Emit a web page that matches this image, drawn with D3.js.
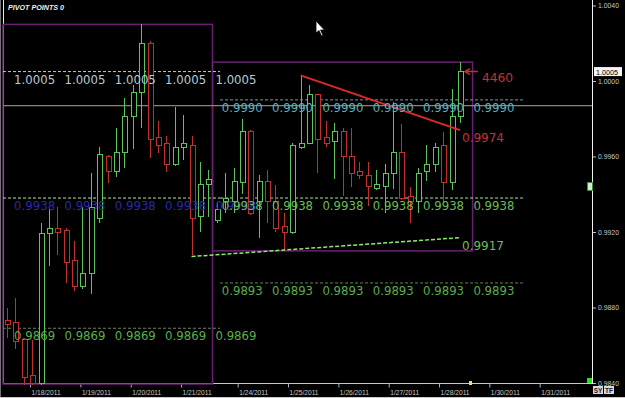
<!DOCTYPE html>
<html><head><meta charset="utf-8">
<script src="https://cdn.jsdelivr.net/npm/d3@7"></script>
<style>html,body{margin:0;padding:0;background:#000;overflow:hidden}</style>
</head><body>
<svg id="c" width="625" height="398"></svg>
<script>
// ---- DATA ----
const opens  = [0.9873,0.9872,0.9863,0.9844,0.9840,0.9919,0.9922,0.9921,0.9905,0.9891,0.9898,0.9927,0.9960,0.9952,0.9962,0.9981,0.9994,1.0020,0.9970,0.9967,0.9956,0.9965,0.9966,0.9928,0.9945,0.9926,0.9936,0.9936,0.9946,0.9973,0.9936,0.9947,0.9936,0.9923,0.9920,0.9965,0.9967,0.9993,0.9970,0.9968,0.9973,0.9960,0.9952,0.9950,0.9943,0.9944,0.9951,0.9962,0.9939,0.9936,0.9952,0.9956,0.9966,0.9946,0.9981];
const highs  = [0.9880,0.9885,0.9864,0.9863,0.9925,0.9932,0.9933,0.9922,0.9915,0.9933,0.9951,0.9965,0.9961,0.9975,0.9991,0.9998,1.0030,1.0021,0.9979,0.9971,0.9986,0.9982,0.9971,0.9957,0.9953,0.9936,0.9951,0.9954,0.9980,0.9974,0.9950,0.9953,0.9945,0.9930,0.9967,1.0003,0.9998,0.9993,0.9979,0.9978,0.9975,0.9975,0.9957,0.9957,0.9953,0.9956,0.9989,0.9977,0.9944,0.9954,0.9966,0.9967,0.9973,0.9996,1.0010];
const lows   = [0.9864,0.9858,0.9839,0.9839,0.9839,0.9902,0.9908,0.9893,0.9889,0.9890,0.9887,0.9925,0.9946,0.9949,0.9954,0.9964,0.9975,0.9959,0.9962,0.9952,0.9955,0.9958,0.9908,0.9920,0.9928,0.9925,0.9930,0.9930,0.9940,0.9929,0.9917,0.9925,0.9920,0.9910,0.9919,0.9964,0.9967,0.9951,0.9965,0.9948,0.9939,0.9944,0.9948,0.9934,0.9942,0.9930,0.9943,0.9937,0.9925,0.9930,0.9947,0.9952,0.9936,0.9942,0.9978];
const closes = [0.9871,0.9862,0.9843,0.9840,0.9919,0.9922,0.9920,0.9904,0.9891,0.9898,0.9933,0.9961,0.9952,0.9962,0.9981,0.9994,1.0020,0.9969,0.9966,0.9956,0.9965,0.9967,0.9927,0.9945,0.9948,0.9932,0.9938,0.9947,0.9973,0.9930,0.9947,0.9936,0.9922,0.9920,0.9966,0.9967,0.9993,0.9969,0.9967,0.9973,0.9960,0.9951,0.9950,0.9944,0.9945,0.9951,0.9962,0.9938,0.9936,0.9951,0.9956,0.9965,0.9946,0.9981,1.0005];

const dateLabels = ['1/18/2011','1/19/2011','1/20/2011','1/21/2011','1/24/2011','1/25/2011','1/26/2011','1/27/2011','1/28/2011','1/30/2011','1/31/2011'];
const dateSlots  = [2.75, 8.75, 14.75, 20.75, 27.5, 33.5, 39.5, 45.5, 51.5, 57.5, 63.5];
const priceTicks = [1.0040, 1.0000, 0.9960, 0.9920, 0.9880, 0.9840];

const weekCandles = [[0, 24], [25, 54]];
const weekRectSlots = [[-0.5, 24.5], [24.5, 55.5]];
const week1Levels = [1.0005, 0.9938, 0.9869];
const week2Levels = [0.9990, 0.9938, 0.9893];
const week1Span = [-1, 25.4];
const week2Span = [25.4, 61.5];
const week1LabelSlots = [0.85, 6.85, 12.85, 18.85, 24.85];
const week2LabelSlots = [25.6, 31.6, 37.6, 43.6, 49.6, 55.6];
const hLine = 0.9987;
const resistance = {from: [35, 1.0003], to: [54, 0.9974], label: '0.9974'};
const support    = {from: [22, 0.9907], to: [54, 0.9917], label: '0.9917'};
const lastPrice = 1.0005;
const pipLabel = '4460';

// ---- CHART ----
const svg = d3.select('#c');
const W = 625, H = 398;
svg.append('rect').attr('width', W).attr('height', H).attr('fill', '#000');

const x = d3.scaleLinear().domain([0, 54]).range([7, 460]);
const y = d3.scaleLinear().domain([0.9840, 1.0040]).range([383, 5.5]);
const fmt = d3.format('.4f');

// frame lines
svg.append('line').attr('x1', 3.5).attr('x2', 3.5).attr('y1', 0).attr('y2', 384).attr('stroke', '#e8e8e8');
svg.append('line').attr('x1', 0.5).attr('x2', 0.5).attr('y1', 0).attr('y2', 398).attr('stroke', '#707070');
svg.append('line').attr('x1', 3).attr('x2', 592).attr('y1', 383.5).attr('y2', 383.5).attr('stroke', '#c8c8c8');
svg.append('line').attr('x1', 592.5).attr('x2', 592.5).attr('y1', 0).attr('y2', 384).attr('stroke', '#f0f0f0');
svg.append('line').attr('x1', 0).attr('x2', 625).attr('y1', 397.5).attr('y2', 397.5).attr('stroke', '#c8c8c8');

// x axis
const xAxis = d3.axisBottom(x).tickValues(dateSlots).tickFormat((d, i) => dateLabels[i]).tickSize(4).tickPadding(2);
const gx = svg.append('g').attr('transform', 'translate(0,383.5)').call(xAxis);
gx.select('.domain').remove();
gx.selectAll('line').attr('stroke', '#b0b0b0');
gx.selectAll('text').attr('fill', '#c8c8c8').attr('text-anchor', 'start').attr('dx', 1)
  .attr('font-family', 'Liberation Sans, Arial, sans-serif').attr('font-size', 7.5)
  .attr('textLength', 29).attr('lengthAdjust', 'spacingAndGlyphs');

// y axis (right)
const yAxis = d3.axisRight(y).tickValues(priceTicks).tickFormat(fmt).tickSize(3).tickPadding(2);
const gy = svg.append('g').attr('transform', 'translate(593,0)').call(yAxis);
gy.select('.domain').remove();
gy.selectAll('line').attr('stroke', '#c0c0c0');
gy.selectAll('text').attr('fill', '#c8c8c8')
  .attr('font-family', 'Liberation Sans, Arial, sans-serif').attr('font-size', 7.5)
  .attr('textLength', 21).attr('lengthAdjust', 'spacingAndGlyphs');

// week range rectangles
weekCandles.forEach((w, k) => {
  const hi = d3.max(highs.slice(w[0], w[1] + 1));
  const lo = d3.min(lows.slice(w[0], w[1] + 1));
  const x0 = Math.max(3, x(weekRectSlots[k][0])), x1 = x(weekRectSlots[k][1]);
  svg.append('rect').attr('x', x0).attr('y', y(hi)).attr('width', x1 - x0)
    .attr('height', Math.min(384, y(lo)) - y(hi))
    .attr('fill', 'none').attr('stroke', '#6a2070').attr('stroke-width', 1.5);
});

// level lines
function levelLine(v, span, color) {
  svg.append('line').attr('x1', Math.max(3, x(span[0]))).attr('x2', x(span[1]))
    .attr('y1', y(v)).attr('y2', y(v)).attr('stroke', color).attr('stroke-width', 1)
    .attr('stroke-dasharray', '3,2');
}
const w1LineColors = ['#c8c8c8', '#a8e898', '#6a8060'];
const w2LineColors = ['#7a9aa0', '#a8e898', '#6a8060'];
week1Levels.forEach((v, i) => levelLine(v, week1Span, w1LineColors[i]));
week2Levels.forEach((v, i) => levelLine(v, week2Span, w2LineColors[i]));

// horizontal olive line
svg.append('line').attr('x1', 3).attr('x2', 592).attr('y1', y(hLine)).attr('y2', y(hLine))
  .attr('stroke', '#8e8852').attr('stroke-width', 1.3);

// candles
const g = svg.append('g').attr('shape-rendering', 'crispEdges');
opens.forEach((o, i) => {
  const c = closes[i];
  const col = c >= o ? '#5cc45c' : '#c0302c';
  const cx = Math.round(x(i)) + 0.5;
  g.append('line').attr('x1', cx).attr('x2', cx).attr('y1', y(highs[i])).attr('y2', y(lows[i])).attr('stroke', col);
  const top = y(Math.max(o, c)), bot = y(Math.min(o, c));
  g.append('rect').attr('x', cx - 2.5).attr('y', top).attr('width', 5).attr('height', Math.max(1.5, bot - top))
    .attr('fill', '#000').attr('stroke', col);
});

// trend lines
svg.append('line').attr('x1', x(support.from[0])).attr('y1', y(support.from[1]))
  .attr('x2', x(support.to[0])).attr('y2', y(support.to[1]))
  .attr('stroke', '#8fe870').attr('stroke-width', 1.5).attr('stroke-dasharray', '4,2');
svg.append('line').attr('x1', x(resistance.from[0])).attr('y1', y(resistance.from[1]))
  .attr('x2', x(resistance.to[0])).attr('y2', y(resistance.to[1]))
  .attr('stroke', '#e02828').attr('stroke-width', 2);

// level labels
function levelLabels(v, slots, color) {
  slots.forEach(s => {
    svg.append('text').attr('x', x(s)).attr('y', y(v) + 12).text(fmt(v))
      .attr('fill', color).attr('font-family', 'DejaVu Sans, sans-serif').attr('font-size', 11.5)
      .attr('textLength', 41).attr('lengthAdjust', 'spacingAndGlyphs');
  });
}
const w1LabelColors = ['#b8ccd4', '#2a2aa6', '#5aae4a'];
const w2LabelColors = ['#5ab0c0', '#6cbc58', '#5aae4a'];
week1Levels.forEach((v, i) => levelLabels(v, week1LabelSlots, w1LabelColors[i]));
week2Levels.forEach((v, i) => levelLabels(v, week2LabelSlots, w2LabelColors[i]));

// trend labels
function trendLabel(t, color) {
  svg.append('text').attr('x', x(t.to[0]) + 2).attr('y', y(t.to[1]) + 12).text(t.label)
    .attr('fill', color).attr('font-family', 'DejaVu Sans, sans-serif').attr('font-size', 11.5)
    .attr('textLength', 42).attr('lengthAdjust', 'spacingAndGlyphs');
}
trendLabel(resistance, '#c83030');
trendLabel(support, '#6cbc58');

// last price arrow + pip label
const ly = y(lastPrice);
const ax = x(54) + 5;
svg.append('path').attr('d', `M${ax + 13},${ly} L${ax},${ly} M${ax + 5},${ly - 3} L${ax},${ly} L${ax + 5},${ly + 3}`)
  .attr('stroke', '#c83030').attr('stroke-width', 1.5).attr('fill', 'none');
svg.append('text').attr('x', ax + 17).attr('y', ly + 10).text(pipLabel)
  .attr('fill', '#c83030').attr('font-family', 'DejaVu Sans, sans-serif').attr('font-size', 11.5)
  .attr('textLength', 31).attr('lengthAdjust', 'spacingAndGlyphs');

// current price box on axis
svg.append('rect').attr('x', 594).attr('y', y(lastPrice) - 4.5).attr('width', 28).attr('height', 9).attr('fill', '#f4f4f4');
svg.append('text').attr('x', 596).attr('y', y(lastPrice) + 3).text(fmt(lastPrice))
  .attr('fill', '#000').attr('font-family', 'Liberation Sans, Arial, sans-serif').attr('font-size', 7.5)
  .attr('textLength', 22).attr('lengthAdjust', 'spacingAndGlyphs');

// title
svg.append('text').attr('x', 8).attr('y', 10).text('PIVOT POINTS 0')
  .attr('fill', '#f0f0f0').attr('font-family', 'Liberation Sans, Arial, sans-serif').attr('font-size', 7.5)
  .attr('font-weight', 'bold').attr('font-style', 'italic')
  .attr('textLength', 56).attr('lengthAdjust', 'spacingAndGlyphs');

// small widgets
svg.append('rect').attr('x', 587).attr('y', 378).attr('width', 5).attr('height', 5).attr('fill', '#22e022');
svg.append('rect').attr('x', 469).attr('y', 381).attr('width', 3).attr('height', 4).attr('fill', '#e8e070');
svg.append('rect').attr('x', 587.5).attr('y', 182.5).attr('width', 5).attr('height', 8).attr('fill', '#d8e8d8').attr('stroke', '#3a8a3a');
[['SY', 593], ['TF', 604]].forEach(([t, bx]) => {
  svg.append('rect').attr('x', bx).attr('y', 386).attr('width', 10).attr('height', 8).attr('fill', '#d8d8d8');
  svg.append('text').attr('x', bx + 5).attr('y', 392.5).attr('text-anchor', 'middle').text(t)
    .attr('fill', '#202020').attr('font-family', 'Liberation Sans, Arial, sans-serif').attr('font-size', 6.5).attr('font-weight', 'bold');
});

// mouse cursor
svg.append('path').attr('d', 'M316,21 L316,33 L319,30.5 L321.5,36 L323,35.3 L320.6,30 L324.5,30 Z')
  .attr('fill', '#fff').attr('stroke', '#000').attr('stroke-width', 0.8);
</script>
</body></html>
